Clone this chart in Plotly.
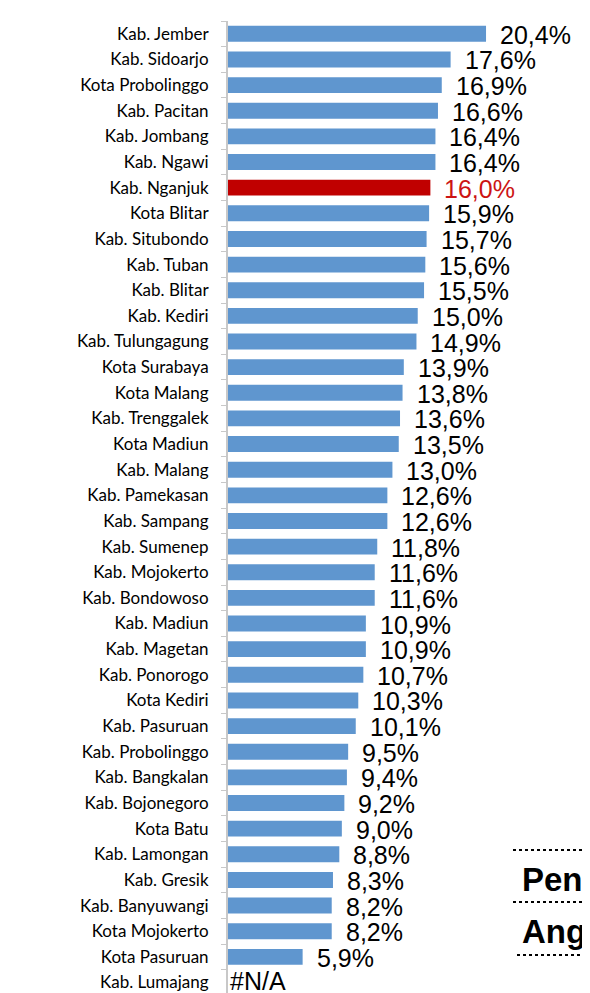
import plotly.graph_objects as go

regions = ["Kab. Jember", "Kab. Sidoarjo", "Kota Probolinggo", "Kab. Pacitan", "Kab. Jombang",
           "Kab. Ngawi", "Kab. Nganjuk", "Kota Blitar", "Kab. Situbondo", "Kab. Tuban",
           "Kab. Blitar", "Kab. Kediri", "Kab. Tulungagung", "Kota Surabaya", "Kota Malang",
           "Kab. Trenggalek", "Kota Madiun", "Kab. Malang", "Kab. Pamekasan", "Kab. Sampang",
           "Kab. Sumenep", "Kab. Mojokerto", "Kab. Bondowoso", "Kab. Madiun", "Kab. Magetan",
           "Kab. Ponorogo", "Kota Kediri", "Kab. Pasuruan", "Kab. Probolinggo", "Kab. Bangkalan",
           "Kab. Bojonegoro", "Kota Batu", "Kab. Lamongan", "Kab. Gresik", "Kab. Banyuwangi",
           "Kota Mojokerto", "Kota Pasuruan", "Kab. Lumajang"]
values = [20.4, 17.6, 16.9, 16.6, 16.4, 16.4, 16.0, 15.9, 15.7, 15.6,
          15.5, 15.0, 14.9, 13.9, 13.8, 13.6, 13.5, 13.0, 12.6, 12.6,
          11.8, 11.6, 11.6, 10.9, 10.9, 10.7, 10.3, 10.1, 9.5, 9.4,
          9.2, 9.0, 8.8, 8.3, 8.2, 8.2, 5.9, None]
highlight = "Kab. Nganjuk"
side_texts = ["Pen", "Ang"]

BLUE = "#5f96cf"
RED = "#c00000"

# page body has an 8px margin; figure occupies 8..590 x 8..993
OFF = 8
W, H = 590 - OFF, 993 - OFF
L, T = 228 - OFF, 21 - OFF
PW, PH = W - L, H - T


def px_x(xpx):
    return (xpx - OFF - L) / PW


def px_y(ypx):
    return 1 - (ypx - OFF - T) / PH


cats = regions[::-1]
vals = values[::-1]
colors = [RED if c == highlight else BLUE for c in cats]

fig = go.Figure()
fig.add_trace(go.Bar(
    y=cats, x=[v if v is not None else 0 for v in vals], orientation="h",
    marker=dict(color=colors, line=dict(width=0)),
    hoverinfo="skip",
))

annotations = []
for c, v in zip(cats, vals):
    if v is None:
        txt, x, shift, ys, col = "#N/A", 0, 1, 1, "#000000"
    else:
        txt = f"{v:.1f}".replace(".", ",") + "%"
        x, shift, ys = v, 13, -1
        col = "#cc1414" if c == highlight else "#000000"
    annotations.append(dict(
        x=x, y=c, xref="x", yref="y", text=txt, showarrow=False,
        xanchor="left", yanchor="middle", xshift=shift, yshift=ys, borderpad=0,
        font=dict(family="Liberation Sans, Arial, sans-serif", size=25, color=col),
    ))

# partial boxes at lower right
for txt, ypx in zip(side_texts, [879, 931]):
    annotations.append(dict(
        x=px_x(520), y=px_y(ypx), xref="paper", yref="paper",
        text="<b>" + txt + "</b>", showarrow=False, xanchor="left", yanchor="middle",
        font=dict(family="Liberation Sans, Arial, sans-serif", size=33, color="#000000"),
    ))

shapes = []
for ypx, x0px in [(850, 513), (902, 513), (955, 517)]:
    shapes.append(dict(
        type="line", xref="paper", yref="paper",
        x0=px_x(x0px), x1=1.0, y0=px_y(ypx), y1=px_y(ypx),
        line=dict(color="#000000", width=2, dash="dot"),
    ))

fig.update_layout(
    width=W, height=H,
    margin=dict(l=L, r=0, t=T, b=0, pad=0),
    plot_bgcolor="white", paper_bgcolor="white",
    showlegend=False, bargap=0.38,
    annotations=annotations, shapes=shapes,
    xaxis=dict(range=[0, 28.62], visible=False, fixedrange=True),
    yaxis=dict(
        type="category", categoryorder="array", categoryarray=cats,
        range=[-0.41, 37.5],
        showline=True, linecolor="#c8c8c8", linewidth=2,
        ticks="outside", tickson="boundaries", ticklen=5, tickcolor="#c8c8c8",
        tickwidth=1,
        tickfont=dict(family="Lato, Liberation Sans, sans-serif", size=17, color="#000000"),
        ticklabelstandoff=14,
        showgrid=False, zeroline=False, fixedrange=True,
    ),
)

fig.write_html("out.html")
